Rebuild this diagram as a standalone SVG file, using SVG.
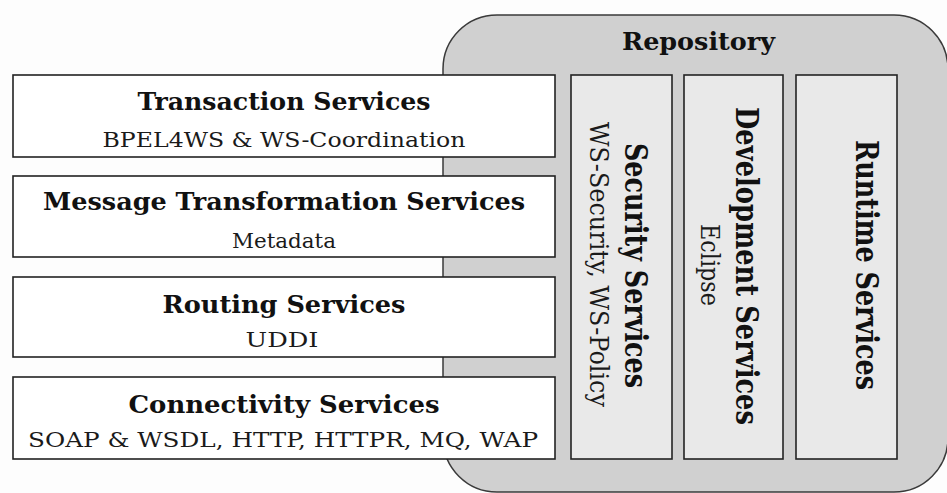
<svg xmlns="http://www.w3.org/2000/svg" width="947" height="493" viewBox="0 0 947 493">
  <style>
    .bg { fill: #fdfdfd; }
    .repo { fill: #d0d0d0; stroke: #3a3a3a; stroke-width: 1.5; }
    .layer { fill: #ffffff; stroke: #222222; stroke-width: 1.6; }
    .column { fill: #e9e9e9; stroke: #222222; stroke-width: 1.6; }
    .title { font-family: "DejaVu Serif", "Liberation Serif", serif; font-weight: bold; fill: #111111; text-anchor: middle; }
    .sub { font-family: "DejaVu Serif", "Liberation Serif", serif; font-weight: normal; fill: #1a1a1a; text-anchor: middle; }
    .h-title { font-size: 25px; }
    .h-sub { font-size: 20px; }
    .v-title { font-size: 31px; }
    .v-sub { font-size: 26px; }
  </style>

  <rect class="bg" x="0" y="0" width="947" height="493"/>

  <!-- Repository container -->
  <g id="repository">
    <rect class="repo" x="443" y="15" width="505" height="477" rx="54" ry="54"/>
    <text class="title h-title" x="698.5" y="50" textLength="153" lengthAdjust="spacingAndGlyphs">Repository</text>
  </g>

  <!-- Horizontal service layers -->
  <g id="transaction-services">
    <rect class="layer" x="13" y="75" width="542" height="82"/>
    <text class="title h-title" x="284" y="110" textLength="293" lengthAdjust="spacingAndGlyphs">Transaction Services</text>
    <text class="sub h-sub" x="284" y="147" textLength="363" lengthAdjust="spacingAndGlyphs">BPEL4WS &amp; WS-Coordination</text>
  </g>

  <g id="message-transformation-services">
    <rect class="layer" x="13" y="176" width="542" height="81"/>
    <text class="title h-title" x="284" y="210" textLength="482" lengthAdjust="spacingAndGlyphs">Message Transformation Services</text>
    <text class="sub h-sub" x="284" y="248" textLength="104" lengthAdjust="spacingAndGlyphs">Metadata</text>
  </g>

  <g id="routing-services">
    <rect class="layer" x="13" y="277" width="542" height="80"/>
    <text class="title h-title" x="284" y="313" textLength="243" lengthAdjust="spacingAndGlyphs">Routing Services</text>
    <text class="sub h-sub" x="282" y="347" textLength="73" lengthAdjust="spacingAndGlyphs">UDDI</text>
  </g>

  <g id="connectivity-services">
    <rect class="layer" x="13" y="377" width="542" height="82"/>
    <text class="title h-title" x="284" y="413" textLength="311" lengthAdjust="spacingAndGlyphs">Connectivity Services</text>
    <text class="sub h-sub" x="283" y="447" textLength="510" lengthAdjust="spacingAndGlyphs">SOAP &amp; WSDL, HTTP, HTTPR, MQ, WAP</text>
  </g>

  <!-- Vertical service columns, labels read top to bottom -->
  <g id="security-services">
    <rect class="column" x="571" y="75" width="101" height="384"/>
    <text class="title v-title" transform="translate(625,265.5) rotate(90)" x="0" y="0" textLength="245" lengthAdjust="spacingAndGlyphs">Security Services</text>
    <text class="sub v-sub" transform="translate(590,264.5) rotate(90)" x="0" y="0" textLength="285" lengthAdjust="spacingAndGlyphs">WS-Security, WS-Policy</text>
  </g>

  <g id="development-services">
    <rect class="column" x="684" y="75" width="99" height="384"/>
    <text class="title v-title" transform="translate(736,266) rotate(90)" x="0" y="0" textLength="318" lengthAdjust="spacingAndGlyphs">Development Services</text>
    <text class="sub v-sub" transform="translate(701,265) rotate(90)" x="0" y="0" textLength="82" lengthAdjust="spacingAndGlyphs">Eclipse</text>
  </g>

  <g id="runtime-services">
    <rect class="column" x="796" y="75" width="101" height="384"/>
    <text class="title v-title" transform="translate(856,265) rotate(90)" x="0" y="0" textLength="250" lengthAdjust="spacingAndGlyphs">Runtime Services</text>
  </g>

  <!-- This diagram has no connectors -->
  <g id="connectors"/>
</svg>
